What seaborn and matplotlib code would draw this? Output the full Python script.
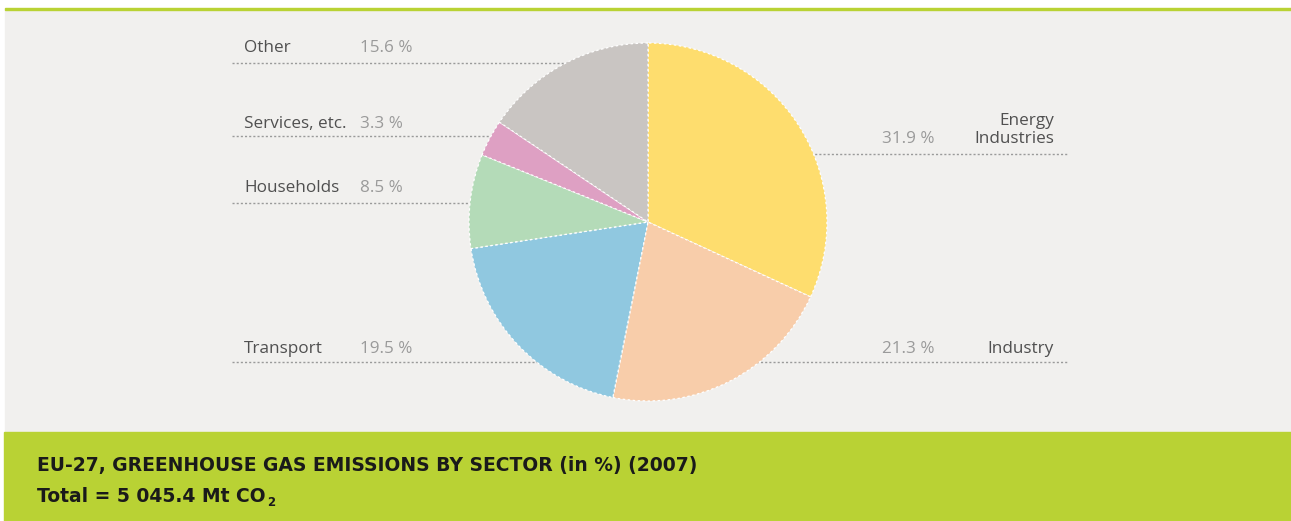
#!/usr/bin/env python3
"""EU-27 greenhouse gas emissions by sector, 2007 - pie chart."""

import matplotlib.pyplot as plt
from matplotlib.patches import Rectangle
import seaborn as sns

# data
sectors = ["Energy\nIndustries", "Industry", "Transport", "Households", "Services, etc.", "Other"]
shares = [31.9, 21.3, 19.5, 8.5, 3.3, 15.6]
value_labels = ["31.9 %", "21.3 %", "19.5 %", "8.5 %", "3.3 %", "15.6 %"]
colors = ["#fedd6e", "#f8cdaa", "#90c8e0", "#b4dbb8", "#dea0c3", "#c9c5c2"]

title_line1 = "EU-27, GREENHOUSE GAS EMISSIONS BY SECTOR (in %) (2007)"
title_line2 = "Total = 5 045.4 Mt CO"

W, H = 1291, 521
GREEN = "#b9d234"
PANEL = "#f1f0ee"

# label layout in pixels (side, leader-line y, text y)
label_layout = {
    "Energy\nIndustries": ("right", 154, 130),
    "Industry": ("right", 362, 349),
    "Transport": ("left", 362, 349),
    "Households": ("left", 203, 188),
    "Services, etc.": ("left", 136, 124),
    "Other": ("left", 63, 48),
}


def Y(py):
    return H - py


sns.set_theme(style="white")
plt.rcParams["font.family"] = ["Open Sans", "DejaVu Sans"]

fig = plt.figure(figsize=(W / 100, H / 100), dpi=100, facecolor="white")
ax = fig.add_axes([0, 0, 1, 1])

# background panels
ax.add_patch(Rectangle((5, Y(432)), W, 422, color=PANEL, zorder=0))
ax.add_patch(Rectangle((5, Y(10)), W, 2, color=GREEN, zorder=0))
ax.add_patch(Rectangle((4, 0), W, H - 432, color=GREEN, zorder=0))

cx, cy, r = 648, Y(222), 179

# leader lines (behind the pie)
for name in sectors:
    side, ly, _ = label_layout[name]
    x0, x1 = (232, cx) if side == "left" else (cx, 1067)
    ax.plot([x0, x1], [Y(ly), Y(ly)], color="#9a9a9a", lw=1,
            ls=(0, (1.5, 1.5)), zorder=1)

ax.pie(
    shares,
    colors=colors,
    startangle=90,
    counterclock=False,
    center=(cx, cy),
    radius=r,
    frame=True,
    wedgeprops=dict(edgecolor="white", linewidth=0.9, linestyle=(0, (2, 2)), zorder=2),
)
ax.set_xlim(0, W)
ax.set_ylim(0, H)
ax.axis("off")

fs = 12.3
for name, val in zip(sectors, value_labels):
    side, ly, ty = label_layout[name]
    if side == "left":
        ax.text(244, Y(ty), name, ha="left", va="center", fontsize=fs, color="#505050", zorder=3)
        ax.text(360, Y(ty), val, ha="left", va="center", fontsize=fs, color="#9a9a9a", zorder=3)
    else:
        ax.text(1054, Y(ty), name, ha="right", va="center", fontsize=fs, color="#505050",
                linespacing=1.15, multialignment="right", zorder=3)
        vy = ty + 9 if "\n" in name else ty
        ax.text(934, Y(vy), val, ha="right", va="center", fontsize=fs, color="#9a9a9a", zorder=3)

title_font = dict(family=["Liberation Sans Narrow", "DejaVu Sans"], weight="bold",
                  color="#1a1a1a", fontsize=13.5)
ax.text(37, Y(465), title_line1, ha="left", va="center", **title_font)
t2 = ax.text(37, Y(496), title_line2, ha="left", va="center", **title_font)

fig.canvas.draw()
bb = t2.get_window_extent()
sub = dict(title_font)
sub["fontsize"] = 8.5
ax.text(bb.x1 + 1, Y(503), "2", ha="left", va="center", **sub)

fig.savefig("out.png", dpi=100, facecolor="white")
